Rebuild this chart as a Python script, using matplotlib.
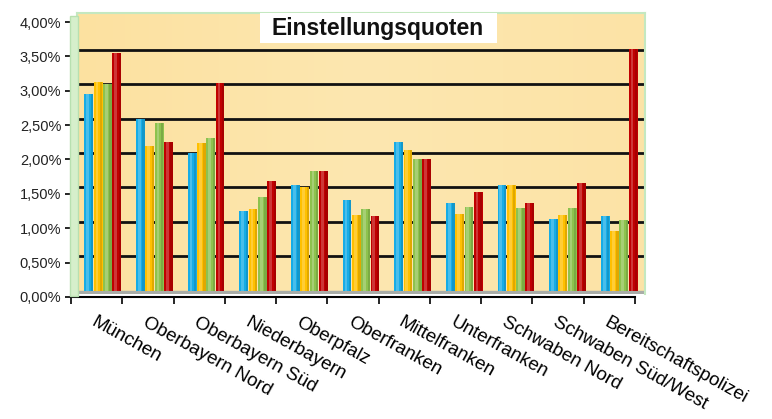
"""Einstellungsquoten - grouped bar chart in an Excel-like 3D look."""

import matplotlib
matplotlib.use("Agg")
import matplotlib.pyplot as plt
import numpy as np
from matplotlib.patches import Rectangle
from matplotlib.ticker import FuncFormatter

plt.rcParams["font.family"] = ["Liberation Sans", "DejaVu Sans"]

# data (percent)
regions = ["München", "Oberbayern Nord", "Oberbayern Süd", "Niederbayern", "Oberpfalz",
           "Oberfranken", "Mittelfranken", "Unterfranken", "Schwaben Nord",
           "Schwaben Süd/West", "Bereitschaftspolizei"]
series_blue = [2.86, 2.50, 2.00, 1.16, 1.54, 1.32, 2.16, 1.28, 1.54, 1.04, 1.09]
series_orange = [3.04, 2.10, 2.14, 1.18, 1.50, 1.10, 2.04, 1.12, 1.54, 1.10, 0.86]
series_green = [3.00, 2.44, 2.22, 1.36, 1.74, 1.18, 1.92, 1.22, 1.20, 1.20, 1.02]
series_red = [3.45, 2.16, 3.02, 1.60, 1.74, 1.08, 1.92, 1.44, 1.28, 1.56, 3.52]
y_ticks = [0, 0.5, 1.0, 1.5, 2.0, 2.5, 3.0, 3.5, 4.0]
title = "Einstellungsquoten"

colors = ["#16ACE6", "#FFC000", "#8DC24E", "#C00000"]
W, H = 772, 419


def px_box(left, top, right, bottom):
    """Pixel rectangle (from top-left) -> figure fraction [l, b, w, h]."""
    return [left / W, 1 - bottom / H, (right - left) / W, (bottom - top) / H]


fig = plt.figure(figsize=(W / 100, H / 100), dpi=100)

# left side wall of the 3D box
fig.patches.append(Rectangle((70 / W, 1 - 296 / H), 8 / W, 280 / H,
                             transform=fig.transFigure, facecolor="#D6EFCB",
                             edgecolor="#B8E0B0", lw=1, zorder=0))

# back wall with bars
px_per_pct = 68.75
ax = fig.add_axes(px_box(77, 13, 645, 294))
y_bottom = -0.05
ax.set_ylim(y_bottom, y_bottom + (294 - 13) / px_per_pct)
ax.set_xlim(-0.5, len(regions) - 0.5)

grad = np.linspace(0, 1, 256).reshape(1, -1)
ax.imshow(grad, extent=(0, 1, 0, 1), transform=ax.transAxes, aspect="auto",
          cmap=matplotlib.colors.LinearSegmentedColormap.from_list(
              "wall", ["#FCE1A0", "#FDE7B0", "#FCE3A6"]), zorder=0)
ax.axhspan(y_bottom, 0, color="#A9ADA8", zorder=1)

for v in y_ticks[1:-1]:
    ax.axhline(v, color="#111111", lw=2, zorder=2)

x = np.arange(len(regions))
bar_w = 0.18
all_series = [series_blue, series_orange, series_green, series_red]
for i, (vals, c) in enumerate(zip(all_series, colors)):
    pos = x + (i - 1.5) * bar_w
    ax.bar(pos, vals, width=bar_w * 0.95, color=c, zorder=3, linewidth=0)
    # cylinder highlight / shadow
    ax.bar(pos - bar_w * 0.12, vals, width=bar_w * 0.3, color="white",
           alpha=0.22, zorder=4, linewidth=0)
    ax.bar(pos + bar_w * 0.33, vals, width=bar_w * 0.25, color="black",
           alpha=0.12, zorder=4, linewidth=0)

ax.set_xticks([])
ax.set_yticks([])
for s in ax.spines.values():
    s.set_color("#C4E8C0")
    s.set_linewidth(1.5)
ax.spines["bottom"].set_visible(False)

# front axes: y labels and category labels
ax2 = fig.add_axes(px_box(71, 22, 635, 297))
ax2.set_facecolor("none")
ax2.set_ylim(0, 4)
ax2.set_xlim(-0.5, len(regions) - 0.5)
ax2.set_yticks(y_ticks)
ax2.yaxis.set_major_formatter(FuncFormatter(lambda v, _: f"{v:.2f}%".replace(".", ",")))
ax2.set_xticks(np.arange(len(regions) + 1) - 0.5)
ax2.set_xticklabels([])
ax2.set_xticks(x, minor=True)
ax2.set_xticklabels(regions, minor=True, rotation=-29, ha="left", va="top",
                    rotation_mode="anchor", fontsize=13.5)
ax2.tick_params(axis="x", which="minor", length=0, pad=12)
ax2.tick_params(axis="x", which="major", direction="out", length=5, width=1.2)
ax2.tick_params(axis="y", direction="out", length=4, width=1.2, labelsize=10.5,
                labelcolor="#222222", pad=3)
for side in ["top", "right"]:
    ax2.spines[side].set_visible(False)
ax2.spines["left"].set_linewidth(1.2)
ax2.spines["bottom"].set_linewidth(1.5)

# title box
fig.patches.append(Rectangle((260 / W, 1 - 43 / H), 237 / W, 30 / H,
                             transform=fig.transFigure, facecolor="white",
                             edgecolor="none", zorder=5))
fig.text(378 / W, 1 - 29 / H, title, ha="center", va="center", fontsize=16.5,
         fontweight="bold", color="#111111", zorder=6)

fig.savefig("out.png", dpi=100)
plt.close(fig)
